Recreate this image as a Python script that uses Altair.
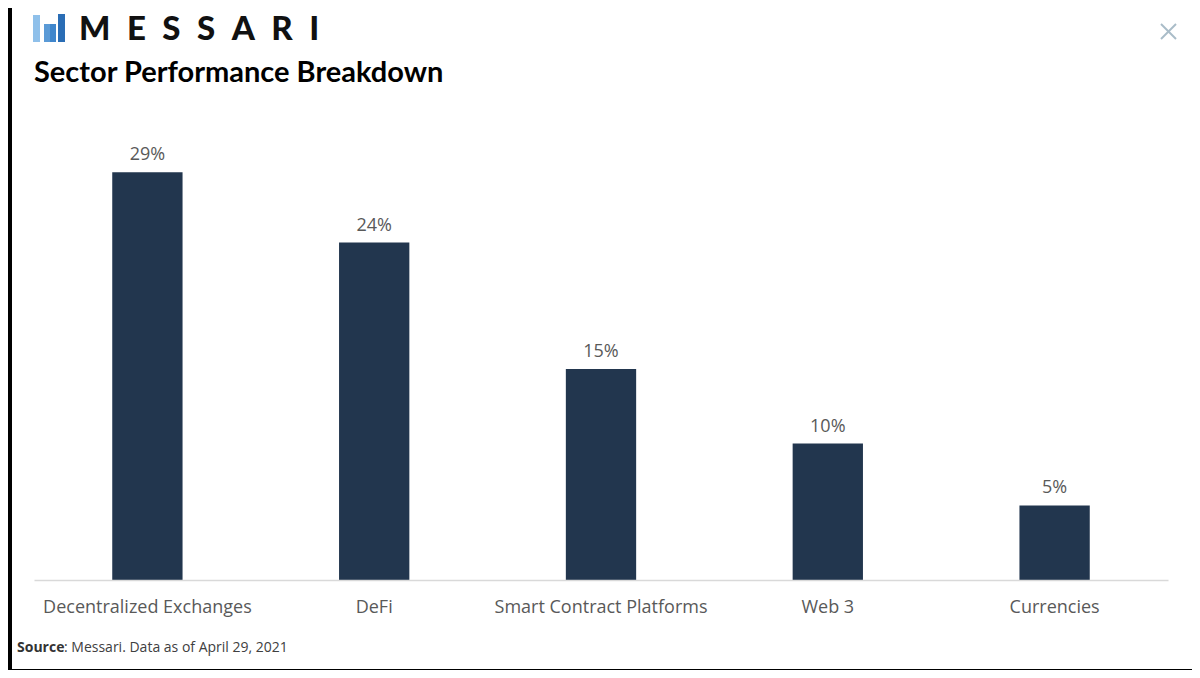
import altair as alt
import pandas as pd

categories = ["Decentralized Exchanges", "DeFi", "Smart Contract Platforms", "Web 3", "Currencies"]
values = [0.29, 0.24, 0.15, 0.097, 0.053]

title_text = "Sector Performance Breakdown"
logo_text = "M\u2002E\u2002S\u2002S\u2002A\u2002R\u2002I"
source_bold = "Source"
source_rest = ": Messari. Data as of April 29, 2021"

df = pd.DataFrame({"sector": categories, "value": values})

LABEL_FONT = "Open Sans"
BAR = "#22364e"
GRAY = "#595959"

def one(text=""):
    return alt.Chart(pd.DataFrame({"t": [text]}))

panel = one().mark_rect(color="white").encode(
    x=alt.value(-22), x2=alt.value(1158), y=alt.value(-108), y2=alt.value(553)
)

x_enc = alt.X(
    "sector:N",
    sort=categories,
    title=None,
    scale=alt.Scale(paddingInner=0.69),
    axis=alt.Axis(
        labelAngle=0, ticks=False, domainColor="#d9d9d9", domainWidth=1.5,
        labelFont=LABEL_FONT, labelFontSize=18, labelColor=GRAY, labelPadding=18,
        labelLimit=400, grid=False, zindex=1,
    ),
)
y_enc = alt.Y("value:Q", axis=None, scale=alt.Scale(domain=[0, 0.33], nice=False, zero=True))

bars = alt.Chart(df).mark_bar(color=BAR).encode(x=x_enc, y=y_enc)
vals = alt.Chart(df).mark_text(
    font=LABEL_FONT, fontSize=18, color=GRAY, baseline="alphabetic", dy=-12
).encode(x=x_enc, y=y_enc, text=alt.Text("value:Q", format=".0%"))

title = one(title_text).mark_text(
    font="Lato", fontSize=29, fontWeight="bold", color="#000000", align="left", baseline="alphabetic"
).encode(x=alt.value(0), y=alt.value(-34), text="t:N")

logo = one(logo_text).mark_text(
    font="Lato", fontSize=33, fontWeight=900, color="#111111", align="left", baseline="alphabetic"
).encode(x=alt.value(45), y=alt.value(-76), text="t:N")

def icon_piece(x1, x2, y1, y2, c):
    return one().mark_rect(color=c).encode(
        x=alt.value(x1), x2=alt.value(x2), y=alt.value(y1), y2=alt.value(y2)
    )

icon = [
    icon_piece(-1, 6, -101, -74, "#8fc0ea"),
    icon_piece(10, 16, -92, -74, "#5a9ad6"),
    icon_piece(16, 22, -92, -74, "#3f86cc"),
    icon_piece(24, 31, -102, -74, "#2a6db5"),
]

close1 = one().mark_rule(color="#a9bcc8", strokeWidth=2).encode(
    x=alt.value(1127), x2=alt.value(1142), y=alt.value(-92), y2=alt.value(-77)
)
close2 = one().mark_rule(color="#a9bcc8", strokeWidth=2).encode(
    x=alt.value(1142), x2=alt.value(1127), y=alt.value(-92), y2=alt.value(-77)
)

src1 = one(source_bold).mark_text(
    font=LABEL_FONT, fontSize=14, fontWeight="bold", color="#333333", align="left", baseline="alphabetic"
).encode(x=alt.value(-17), y=alt.value(536), text="t:N")
src2 = one(source_rest).mark_text(
    font=LABEL_FONT, fontSize=14, color="#404040", align="left", baseline="alphabetic"
).encode(x=alt.value(30), y=alt.value(536), text="t:N")

chart = alt.layer(panel, bars, vals, title, logo, *icon, close1, close2, src1, src2).properties(
    width=1134,
    height=464,
    background="#000000",
    padding={"left": 26, "top": 108, "right": 24, "bottom": 90},
    autosize=alt.AutoSizeParams(type="none"),
).configure_view(stroke=None)

chart.save("out.html", embed_options={"renderer": "svg", "actions": False})
